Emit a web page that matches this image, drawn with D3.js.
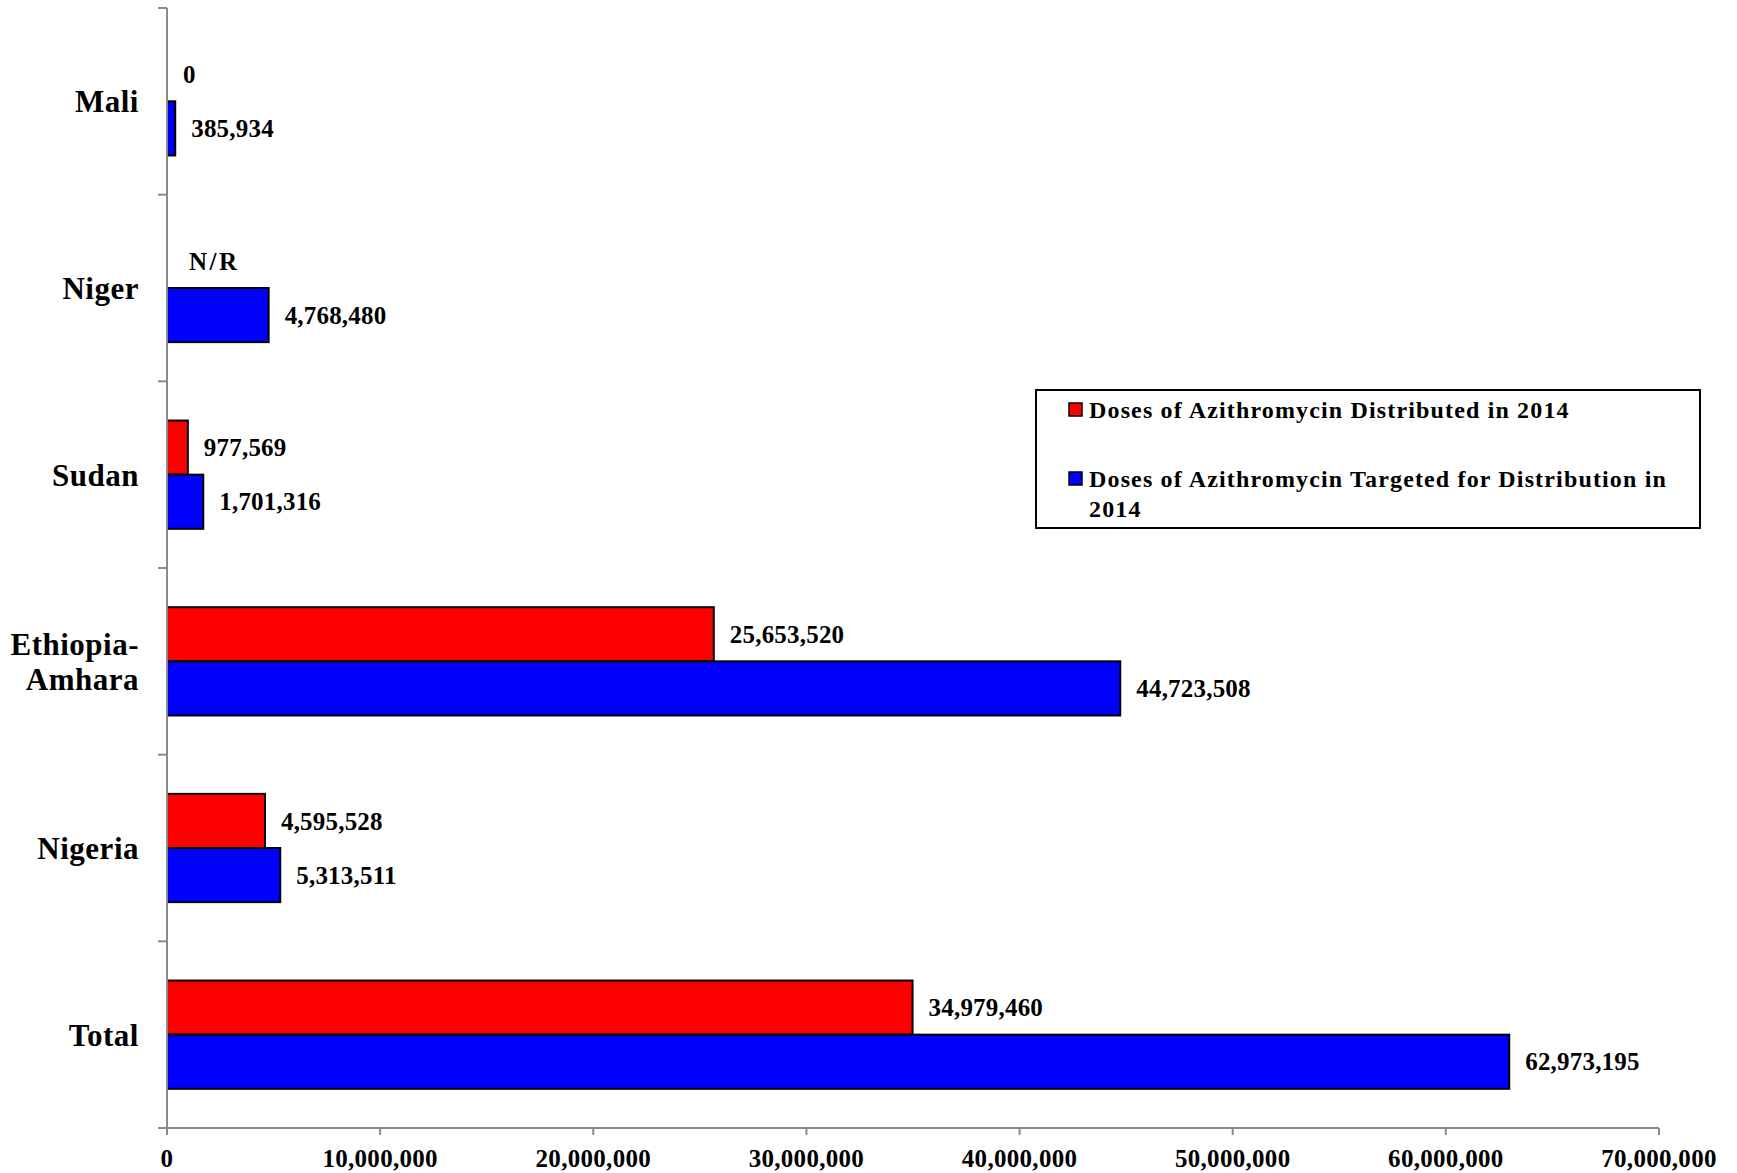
<!DOCTYPE html>
<html>
<head>
<meta charset="utf-8">
<script src="https://cdn.jsdelivr.net/npm/d3@7"></script>
<style>
  html, body { margin: 0; padding: 0; background: #fff; }
  svg { display: block; }
  text { font-family: "Liberation Serif", "Times New Roman", serif; font-weight: bold; fill: #000; }
</style>
</head>
<body>
<script>
const categories = ["Mali", "Niger", "Sudan", "Ethiopia-Amhara", "Nigeria", "Total"];
const distributed = [0, null, 977569, 25653520, 4595528, 34979460];
const targeted = [385934, 4768480, 1701316, 44723508, 5313511, 62973195];
const seriesNames = ["Doses of Azithromycin Distributed in 2014", "Doses of Azithromycin Targeted for Distribution in 2014"];
const seriesColors = ["#ff0000", "#0000ff"];
const xTicks = [0, 10000000, 20000000, 30000000, 40000000, 50000000, 60000000, 70000000];
const missingLabel = "N/R";

const W = 1737, H = 1173;
const svg = d3.select("body").append("svg").attr("width", W).attr("height", H);
svg.append("rect").attr("width", W).attr("height", H).attr("fill", "#fff");

const x = d3.scaleLinear().domain([0, 70000000]).range([167, 1659]);
const y = d3.scaleBand().domain(categories).range([8, 1128]).padding(0);
const barH = y.bandwidth() * 0.29;
const sub = d3.scaleBand().domain([0, 1]).range([y.bandwidth() / 2 - barH, y.bandwidth() / 2 + barH]);

const rows = categories.map((c, i) => ({ c, vals: [distributed[i], targeted[i]] }));

const g = svg.append("g");
rows.forEach(r => {
  r.vals.forEach((v, s) => {
    if (v == null || v === 0) return;
    g.append("rect")
      .attr("x", x(0))
      .attr("y", y(r.c) + sub(s))
      .attr("width", x(v) - x(0))
      .attr("height", sub.bandwidth())
      .attr("fill", seriesColors[s])
      .attr("stroke", "#000")
      .attr("stroke-width", 2);
  });
});

const fmt = d3.format(",");
rows.forEach(r => {
  r.vals.forEach((v, s) => {
    const yc = y(r.c) + sub(s) + sub.bandwidth() / 2;
    const isNull = v == null;
    g.append("text")
      .attr("x", isNull ? x(0) + 22 : x(v) + 16)
      .attr("y", yc)
      .attr("dy", "0.35em")
      .attr("font-size", 25)
      .attr("letter-spacing", isNull ? 2.5 : 0.2)
      .text(isNull ? missingLabel : fmt(v));
  });
});

const axisColor = "#8a8a8a";
const ax = svg.append("g");
ax.append("line").attr("x1", x(0)).attr("x2", x(0)).attr("y1", y.range()[0]).attr("y2", y.range()[1] + 7)
  .attr("stroke", axisColor).attr("stroke-width", 2);
const bounds = categories.map(c => y(c)).concat([y.range()[1]]);
bounds.forEach(b => {
  ax.append("line").attr("x1", x(0) - 9).attr("x2", x(0)).attr("y1", b).attr("y2", b)
    .attr("stroke", axisColor).attr("stroke-width", 2);
});
ax.append("line").attr("x1", x(0) - 9).attr("x2", x(70000000)).attr("y1", y.range()[1]).attr("y2", y.range()[1])
  .attr("stroke", axisColor).attr("stroke-width", 2);
xTicks.forEach(t => {
  ax.append("line").attr("x1", x(t)).attr("x2", x(t)).attr("y1", y.range()[1]).attr("y2", y.range()[1] + 7)
    .attr("stroke", axisColor).attr("stroke-width", 2);
  ax.append("text").attr("x", x(t)).attr("y", 1158).attr("dy", "0.35em")
    .attr("text-anchor", "middle").attr("font-size", 25).attr("letter-spacing", 0.3).text(fmt(t));
});

categories.forEach(c => {
  const parts = c.includes("-") ? [c.split("-")[0] + "-", c.split("-")[1]] : [c];
  const cy = y(c) + y.bandwidth() / 2;
  const lh = 35;
  const t = ax.append("text").attr("text-anchor", "end").attr("font-size", 31).attr("letter-spacing", 0.5);
  parts.forEach((p, k) => {
    t.append("tspan").attr("x", 139)
      .attr("y", cy + (k - (parts.length - 1) / 2) * lh)
      .attr("dy", "0.35em").text(p);
  });
});

const lg = svg.append("g");
lg.append("rect").attr("x", 1036).attr("y", 390).attr("width", 664).attr("height", 138)
  .attr("fill", "#fff").attr("stroke", "#000").attr("stroke-width", 2);
const legendItems = [
  { lines: ["Doses of Azithromycin Distributed in 2014"], y: 410 },
  { lines: ["Doses of Azithromycin Targeted for Distribution in", "2014"], y: 479 }
];
legendItems.forEach((it, i) => {
  lg.append("rect").attr("x", 1069).attr("y", it.y - 7).attr("width", 13).attr("height", 13)
    .attr("fill", seriesColors[i]).attr("stroke", "#000").attr("stroke-width", 1.5);
  const t = lg.append("text").attr("font-size", 24).attr("letter-spacing", 1.15);
  it.lines.forEach((l, k) => {
    t.append("tspan").attr("x", 1089).attr("y", it.y + k * 30).attr("dy", "0.35em").text(l);
  });
});
</script>
</body>
</html>
